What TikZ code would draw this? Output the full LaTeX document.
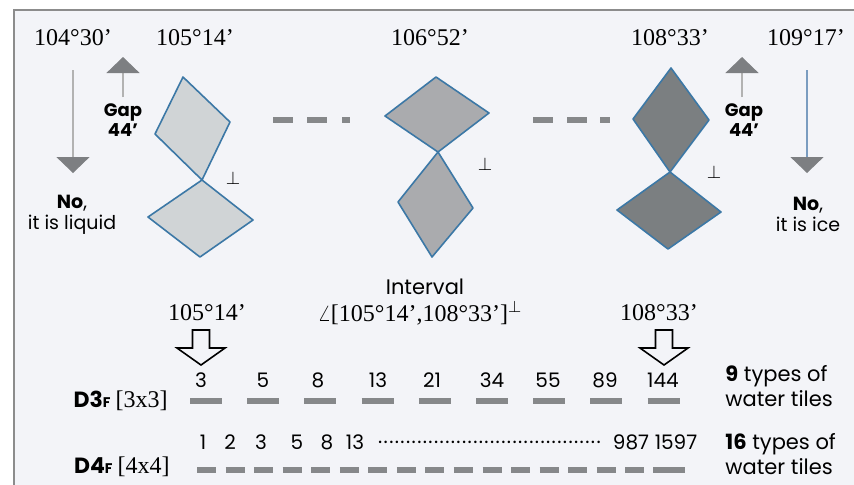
\documentclass[tikz,border=0pt]{standalone}
\usepackage{fontspec}
\setmainfont{Liberation Serif}
\setsansfont{Poppins}
\usepackage{tikz}
\usetikzlibrary{calc, arrows.meta, positioning}

\definecolor{panelbg}{HTML}{F3F4F8}
\definecolor{framegray}{HTML}{8C8C8C}
\definecolor{edgeblue}{HTML}{3C78A6}
\definecolor{tilelight}{HTML}{D0D4D6}
\definecolor{tilemid}{HTML}{AAABAE}
\definecolor{tiledark}{HTML}{7B7F81}
\definecolor{bargray}{HTML}{86888A}
\definecolor{headgray}{HTML}{7D7F82}
\definecolor{stemblue}{HTML}{7A9CC0}

\tikzset{
  anglbl/.style={inner sep=0pt, font=\fontsize{12}{14}\selectfont},
  sidenote/.style={inner sep=0pt, align=center, font=\sffamily\fontsize{9.5}{10.5}\selectfont},
  gapnote/.style={inner sep=0pt, align=center, font=\sffamily\bfseries\fontsize{9}{10}\selectfont},
  perpmark/.style={inner sep=0pt, font=\fontsize{9}{10}\selectfont},
  tile/.style={draw=edgeblue, line width=0.8pt, line join=round},
  bar/.style={draw=bargray, line width=3.4pt},
  tinybar/.style={draw=bargray, line width=3pt},
  downarr/.style={line width=0.6pt, -{Triangle[width=16.5pt, length=8pt, color=headgray]}},
  hollow/.style={draw=black, line width=0.8pt, fill=panelbg, line join=miter},
  numlbl/.style={inner sep=0pt, font=\sffamily\fontsize{10}{12}\selectfont},
  rowlbl/.style={inner sep=0pt, anchor=east},
  typelbl/.style={inner sep=0pt, anchor=west, align=left, font=\sffamily\fontsize{10.5}{12.5}\selectfont}
}

\begin{document}
\begin{tikzpicture}[x=0.5pt, y=-0.5pt]
    \useasboundingbox (0,0) rectangle (854,484);
    % 1. Khung nen
    \fill[white] (0,0) rectangle (854,484);
    \draw[framegray, line width=1pt, fill=panelbg] (13.5,10) rectangle (880,510);

    % 2. Cac goc o tren
    \node[anglbl] (a1) at (73,38) {104°30’};
    \node[anglbl] (a2) at (195,38) {105°14’};
    \node[anglbl] (a3) at (430,38) {106°52’};
    \node[anglbl] (a4) at (670,38) {108°33’};
    \node[anglbl] (a5) at (806,38) {109°17’};

    % 3. Mui ten ben trai va ben phai
    \coordinate (liqtop) at (73,70);   \coordinate (liqtip) at (73,173);
    \coordinate (gapLb) at (123,97);   \coordinate (gapLt) at (123,57);
    \coordinate (gapRb) at (742,97);   \coordinate (gapRt) at (742,57);
    \coordinate (icetop) at (807,70);  \coordinate (icetip) at (807,173);
    \draw[downarr, gray!60] (liqtop) -- (liqtip);
    \draw[downarr, gray!60] (gapLb) -- (gapLt);
    \draw[downarr, gray!60] (gapRb) -- (gapRt);
    \draw[downarr, stemblue] (icetop) -- (icetip);
    \node[gapnote] (gapL) at (123,120) {Gap\\44’};
    \node[gapnote] (gapR) at (744,120) {Gap\\44’};
    \node[sidenote] (liq) at (72,214.5) {\textbf{No},\\it is liquid};
    \node[sidenote] (ice) at (808,214.5) {\textbf{No},\\it is ice};

    % 4. Cac hinh thoi
    \draw[tile, fill=tilelight] (183,77) -- (230,122) -- (202,180) -- (155,134) -- cycle;
    \draw[tile, fill=tilelight] (202,180) -- (253,220) -- (200,257) -- (148,217) -- cycle;
    \draw[tile, fill=tilemid] (436,77) -- (489,113) -- (438,152) -- (385,116) -- cycle;
    \draw[tile, fill=tilemid] (438,152) -- (473,208) -- (432,257) -- (398,202) -- cycle;
    \draw[tile, fill=tiledark] (671,68) -- (709,120) -- (670,172) -- (633,119) -- cycle;
    \draw[tile, fill=tiledark] (670,172) -- (721,212) -- (668,249) -- (617,210) -- cycle;
    \node[perpmark] (p1) at (233,178) {$\perp$};
    \node[perpmark] (p2) at (485,164) {$\perp$};
    \node[perpmark] (p3) at (714,172) {$\perp$};

    % 5. Net dut giua cac hinh
    \draw[bar, line width=3pt] (273,120) -- (293,120) (307,120) -- (327,120) (342,120) -- (350,120);
    \draw[bar, line width=3pt] (533,120) -- (553,120) (567,120) -- (587,120) (600,120) -- (610,120);

    % 6. Khoang
    \node[inner sep=0pt, font=\sffamily\fontsize{10.5}{12}\selectfont] (itv) at (425,287) {Interval};
    \node[anglbl] (itvr) at (420,313) {$\angle$[105°14’,108°33’]$^{\perp}$};
    \node[anglbl] (lo) at (207,313) {105°14’};
    \node[anglbl] (hi) at (659,313) {108°33’};
    \draw[hollow] (192.5,330) -- (209.5,330) -- (209.5,348) -- (225,348) -- (201,365)
        -- (177,348) -- (192.5,348) -- cycle;
    \draw[hollow] (655.5,330) -- (672.5,330) -- (672.5,348) -- (688,348) -- (664,365)
        -- (640,348) -- (655.5,348) -- cycle;

    % 7. Hang D3F
    \foreach \v/\xx in {3/201, 5/263, 8/318, 13/378, 21/432, 34/492, 55/548, 89/605, 144/663}
        \node[numlbl] (d3n\v) at (\xx,380) {\v};
    \foreach \k in {0,...,8}
        \draw[bar] ({190+57.2*\k},401) -- ({222+57.2*\k},401);
    \node[rowlbl] (d3) at (168,401) {{\sffamily\bfseries\fontsize{11}{12}\selectfont D3\fontsize{7}{8}\selectfont F} \fontsize{12}{14}\selectfont[3x3]};
    \node[typelbl] (d3t) at (725,386.5) {\textbf{9} types of\\water tiles};

    % 8. Hang D4F
    \foreach \v/\xx in {1/203, 2/230, 3/261, 5/297, 8/327, 13/355, 987/631, 1597/676}
        \node[numlbl] (d4n\v) at (\xx,442) {\v};
    \node[numlbl, anchor=west] (dots) at (377,442)
        {\hbox to 114pt{\leaders\hbox to 2.8pt{\hss.\hss}\hfill}};
    \foreach \k in {0,...,15}
        \draw[tinybar] ({197+28.55*\k},470) -- ({216+28.55*\k},470);
    \draw[tinybar] (653,470) -- (685,470);
    \node[rowlbl] (d4) at (170,467) {{\sffamily\bfseries\fontsize{11}{12}\selectfont D4\fontsize{7}{8}\selectfont F} \fontsize{12}{14}\selectfont[4x4]};
    \node[typelbl] (d4t) at (725,454.5) {\textbf{16} types of\\water tiles};
\end{tikzpicture}
\end{document}
